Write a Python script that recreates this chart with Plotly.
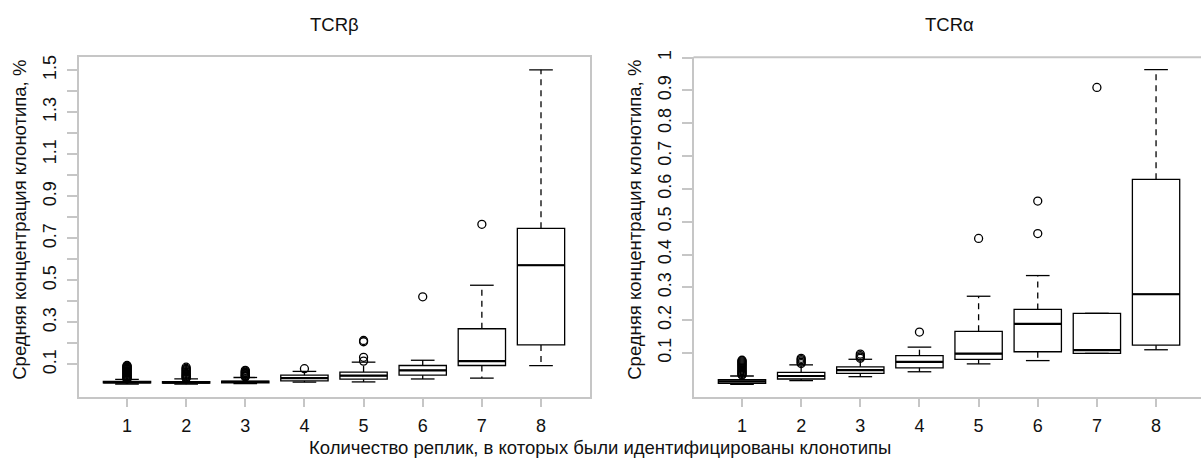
import plotly.graph_objects as go

# Number of replicates in which a clonotype was found
replicates = [1, 2, 3, 4, 5, 6, 7, 8]

# TCR beta: box statistics (mean clonotype concentration, %)
beta_q1 = [0.012, 0.011, 0.013, 0.022, 0.030, 0.049, 0.095, 0.193]
beta_median = [0.015, 0.014, 0.017, 0.035, 0.047, 0.072, 0.116, 0.572]
beta_q3 = [0.019, 0.018, 0.021, 0.049, 0.064, 0.095, 0.270, 0.748]
beta_low = [0.007, 0.006, 0.009, 0.016, 0.017, 0.031, 0.035, 0.094]
beta_high = [0.029, 0.031, 0.038, 0.067, 0.111, 0.120, 0.477, 1.502]
beta_out_1 = [0.031, 0.033, 0.036, 0.039, 0.042, 0.045, 0.048, 0.052, 0.055, 0.058,
              0.061, 0.064, 0.067, 0.071, 0.074, 0.077, 0.080, 0.083, 0.086, 0.089,
              0.092, 0.095]
beta_out_2 = [0.034, 0.037, 0.041, 0.045, 0.049, 0.053, 0.057, 0.062, 0.066, 0.071,
              0.076, 0.081, 0.087]
beta_out_3 = [0.041, 0.044, 0.047, 0.050, 0.054, 0.057, 0.061, 0.064, 0.068, 0.072]
beta_out_4 = [0.080]
beta_out_5 = [0.116, 0.134, 0.208, 0.214]
beta_out_6 = [0.422]
beta_out_7 = [0.767]
beta_out_8 = []

# TCR alpha: box statistics (mean clonotype concentration, %)
alpha_q1 = [0.008, 0.021, 0.038, 0.055, 0.081, 0.104, 0.099, 0.124]
alpha_median = [0.0135, 0.030, 0.048, 0.073, 0.098, 0.189, 0.109, 0.279]
alpha_q3 = [0.019, 0.041, 0.058, 0.092, 0.166, 0.233, 0.221, 0.629]
alpha_low = [0.005, 0.016, 0.028, 0.043, 0.067, 0.077, 0.099, 0.110]
alpha_high = [0.030, 0.064, 0.081, 0.118, 0.273, 0.336, 0.221, 0.963]
alpha_out_1 = [0.033, 0.035, 0.038, 0.041, 0.043, 0.046, 0.049, 0.052, 0.055, 0.058,
               0.061, 0.064, 0.067, 0.070, 0.073, 0.076, 0.078]
alpha_out_2 = [0.068, 0.072, 0.076, 0.080, 0.084]
alpha_out_3 = [0.084, 0.088, 0.092, 0.097]
alpha_out_4 = [0.164]
alpha_out_5 = [0.449]
alpha_out_6 = [0.464, 0.563]
alpha_out_7 = [0.909]
alpha_out_8 = []

beta_ticks = [0.1, 0.2, 0.3, 0.4, 0.5, 0.6, 0.7, 0.8, 0.9, 1.0, 1.1, 1.2, 1.3, 1.4, 1.5]
beta_ticktext = ["0.1", "", "0.3", "", "0.5", "", "0.7", "", "0.9", "", "1.1", "", "1.3", "", "1.5"]
alpha_ticks = [0.1, 0.2, 0.3, 0.4, 0.5, 0.6, 0.7, 0.8, 0.9, 1.0]
alpha_ticktext = ["0.1", "0.2", "0.3", "0.4", "0.5", "0.6", "0.7", "0.8", "0.9", "1"]

panel_titles = ["TCRβ", "TCRα"]
x_title = "Количество реплик, в которых были идентифицированы клонотипы"
y_title = "Средняя концентрация клонотипа, %"

W, H = 1201, 465
FONT = "Liberation Sans, Arial, Helvetica, sans-serif"
TEXT = "#111111"
FRAME = "#c6c6c6"
BOX_W = 0.8
CAP_HALF = 0.2
LW = 1.3


def px_x(p):
    return p / W


def px_y(p):
    return 1 - p / H


fig = go.Figure()


def add_panel(xa, ya, q1, med, q3, low, high, outliers):
    # boxes (whiskers are drawn separately with dashes)
    fig.add_trace(go.Box(
        x=replicates, q1=q1, median=med, q3=q3, lowerfence=q1, upperfence=q3,
        width=BOX_W, whiskerwidth=0, boxpoints=False,
        fillcolor="rgba(255,255,255,0)", line=dict(color="black", width=LW),
        xaxis=xa, yaxis=ya, hoverinfo="skip"))
    # thicker median lines
    mx, my = [], []
    for x, m in zip(replicates, med):
        mx += [x - BOX_W / 2, x + BOX_W / 2, None]
        my += [m, m, None]
    fig.add_trace(go.Scatter(x=mx, y=my, mode="lines", line=dict(color="black", width=2.2),
                             xaxis=xa, yaxis=ya, hoverinfo="skip"))
    # dashed whiskers
    wx, wy = [], []
    for x, a, b, lo, hi in zip(replicates, q1, q3, low, high):
        if hi > b:
            wx += [x, x, None]
            wy += [b, hi, None]
        if lo < a:
            wx += [x, x, None]
            wy += [a, lo, None]
    fig.add_trace(go.Scatter(x=wx, y=wy, mode="lines",
                             line=dict(color="black", width=LW, dash="6px,5px"),
                             xaxis=xa, yaxis=ya, hoverinfo="skip"))
    # whisker staples
    sx, sy = [], []
    for x, lo, hi in zip(replicates, low, high):
        sx += [x - CAP_HALF, x + CAP_HALF, None, x - CAP_HALF, x + CAP_HALF, None]
        sy += [hi, hi, None, lo, lo, None]
    fig.add_trace(go.Scatter(x=sx, y=sy, mode="lines", line=dict(color="black", width=LW),
                             xaxis=xa, yaxis=ya, hoverinfo="skip"))
    # outliers
    ox, oy = [], []
    for x, vals in zip(replicates, outliers):
        ox += [x] * len(vals)
        oy += list(vals)
    fig.add_trace(go.Scatter(x=ox, y=oy, mode="markers",
                             marker=dict(symbol="circle-open", size=8, color="black",
                                         line=dict(width=LW, color="black")),
                             xaxis=xa, yaxis=ya, hoverinfo="skip"))


add_panel("x", "y", beta_q1, beta_median, beta_q3, beta_low, beta_high,
          [beta_out_1, beta_out_2, beta_out_3, beta_out_4,
           beta_out_5, beta_out_6, beta_out_7, beta_out_8])
add_panel("x2", "y2", alpha_q1, alpha_median, alpha_q3, alpha_low, alpha_high,
          [alpha_out_1, alpha_out_2, alpha_out_3, alpha_out_4,
           alpha_out_5, alpha_out_6, alpha_out_7, alpha_out_8])

tickfont = dict(family=FONT, size=18, color=TEXT)
y_dom = [px_y(396), px_y(51)]

xcommon = dict(tickvals=replicates, ticktext=[str(r) for r in replicates],
               ticks="outside", ticklen=8, tickwidth=1.5, tickcolor=FRAME,
               showline=True, linecolor=FRAME, linewidth=2,
               showgrid=False, zeroline=False, tickfont=tickfont,
               ticklabelstandoff=3)
ycommon = dict(ticks="outside", ticklen=10, tickwidth=1.5, tickcolor=FRAME,
               showline=True, linecolor=FRAME, linewidth=2,
               showgrid=False, zeroline=False, tickfont=tickfont, tickangle=-90,
               ticklabelstandoff=3)

fig.update_layout(
    width=W, height=H, margin=dict(l=0, r=0, t=0, b=0),
    paper_bgcolor="white", plot_bgcolor="white", showlegend=False,
    xaxis=dict(domain=[px_x(78.5), px_x(589.5)], range=[0.18, 8.82],
               mirror=True, anchor="y", **xcommon),
    yaxis=dict(domain=y_dom, range=[-0.055, 1.562], tickvals=beta_ticks,
               ticktext=beta_ticktext, mirror=True, anchor="x", **ycommon),
    xaxis2=dict(domain=[px_x(693.5), 1.0], range=[0.18, 8.76],
                anchor="y2", **xcommon),
    yaxis2=dict(domain=y_dom, range=[-0.034, 1.001], tickvals=alpha_ticks,
                ticktext=alpha_ticktext, anchor="x2", **ycommon),
)

# top edge of the right frame
fig.add_shape(type="line", xref="x2 domain", yref="y2 domain", x0=0, x1=1, y0=1, y1=1,
              line=dict(color=FRAME, width=2))

ann_font = dict(family=FONT, size=18.5, color=TEXT)
for title, cx in zip(panel_titles, [334, 949]):
    fig.add_annotation(text=title, x=px_x(cx), y=px_y(18), xref="paper", yref="paper",
                       showarrow=False, xanchor="center", yanchor="middle",
                       font=dict(family=FONT, size=18.5, color=TEXT))
for cx in [20, 635]:
    fig.add_annotation(text=y_title, x=px_x(cx), y=px_y(216), xref="paper", yref="paper",
                       showarrow=False, xanchor="center", yanchor="middle",
                       textangle=-90, font=ann_font)
fig.add_annotation(text=x_title, x=px_x(600), y=px_y(447), xref="paper", yref="paper",
                   showarrow=False, xanchor="center", yanchor="middle", font=ann_font)

fig.write_html("out.html")
